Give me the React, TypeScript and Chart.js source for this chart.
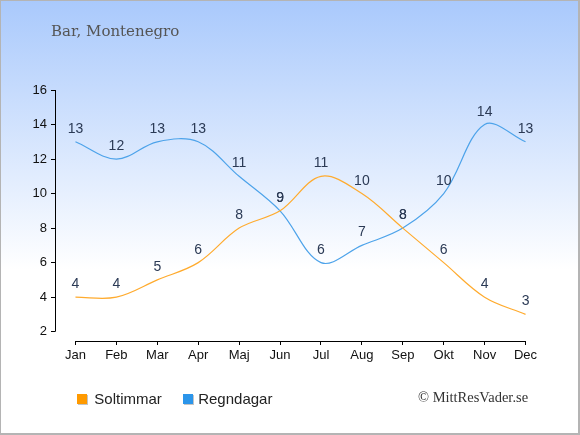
import { useEffect, useRef } from 'react';
import { Chart, registerables } from 'chart.js';

Chart.register(...registerables);

const months = ['Jan', 'Feb', 'Mar', 'Apr', 'Maj', 'Jun', 'Jul', 'Aug', 'Sep', 'Okt', 'Nov', 'Dec'];
const soltimmar = [4, 4, 5, 6, 8, 9, 11, 10, 8, 6, 4, 3];
const regndagar = [13, 12, 13, 13, 11, 9, 6, 7, 8, 10, 14, 13];
const yTicks = [2, 4, 6, 8, 10, 12, 14, 16];

const sunColor = '#ffab2e';
const rainColor = '#4da3ea';
const sans = '"Liberation Sans", Arial, sans-serif';
const serif = '"Liberation Serif", "Times New Roman", serif';
const titleSerif = '"DejaVu Serif", Georgia, serif';

// axis lines run only between first and last tick, like the original
const axisLines = {
  id: 'axisLines',
  beforeDatasetsDraw(chart: any) {
    const { ctx, chartArea } = chart;
    const x = chart.scales.x;
    const y = chart.scales.y;
    ctx.save();
    ctx.strokeStyle = '#000';
    ctx.lineWidth = 1;
    ctx.beginPath();
    const ax = Math.round(chartArea.left) + 0.5;
    ctx.moveTo(ax, y.getPixelForValue(yTicks[yTicks.length - 1]));
    ctx.lineTo(ax, y.getPixelForValue(yTicks[0]));
    const ay = Math.round(chartArea.bottom) + 0.5;
    ctx.moveTo(x.getPixelForValue(0), ay);
    ctx.lineTo(x.getPixelForValue(months.length - 1), ay);
    ctx.stroke();
    ctx.restore();
  },
};

// value above every point
const pointLabels = {
  id: 'pointLabels',
  afterDatasetsDraw(chart: any) {
    const { ctx } = chart;
    ctx.save();
    ctx.font = `14px ${sans}`;
    ctx.fillStyle = '#2b3a55';
    ctx.textAlign = 'center';
    ctx.textBaseline = 'alphabetic';
    chart.data.datasets.forEach((ds: any, i: number) => {
      chart.getDatasetMeta(i).data.forEach((pt: any, j: number) => {
        ctx.fillText(String(ds.data[j]), pt.x, pt.y - 9);
      });
    });
    ctx.restore();
  },
};

export default function App() {
  const canvasRef = useRef<HTMLCanvasElement>(null);
  const chartRef = useRef<Chart | null>(null);

  useEffect(() => {
    if (!canvasRef.current) return;
    if (chartRef.current) chartRef.current.destroy();

    chartRef.current = new Chart(canvasRef.current, {
      type: 'line',
      data: {
        labels: months,
        datasets: [
          {
            label: 'Soltimmar',
            data: soltimmar,
            borderColor: sunColor,
            borderWidth: 1.2,
            pointRadius: 0,
            tension: 0.35,
            fill: false,
          },
          {
            label: 'Regndagar',
            data: regndagar,
            borderColor: rainColor,
            borderWidth: 1.2,
            pointRadius: 0,
            tension: 0.35,
            fill: false,
          },
        ],
      },
      options: {
        animation: false,
        responsive: true,
        maintainAspectRatio: false,
        layout: { padding: { top: 90, right: 34, left: 0, bottom: 0 } },
        plugins: {
          legend: { display: false },
          title: { display: false },
          tooltip: { enabled: false },
        },
        scales: {
          x: {
            offset: true,
            border: { display: false },
            grid: { offset: false, drawOnChartArea: false, drawTicks: true, tickLength: 4, color: '#000' },
            ticks: { color: '#111', font: { size: 13, family: sans }, padding: 3, maxRotation: 0, autoSkip: false },
            afterFit: (s: any) => { s.height = 94; },
          },
          y: {
            min: 1.46,
            max: 16,
            border: { display: false },
            grid: { drawOnChartArea: false, drawTicks: true, tickLength: 4, color: '#000' },
            ticks: { color: '#111', font: { size: 13, family: sans }, padding: 4 },
            afterBuildTicks: (s: any) => { s.ticks = yTicks.map(v => ({ value: v })); },
            afterFit: (s: any) => { s.width = 55; },
          },
        },
      },
      plugins: [axisLines, pointLabels],
    });

    return () => {
      if (chartRef.current) {
        chartRef.current.destroy();
        chartRef.current = null;
      }
    };
  }, []);

  const marker = (color: string, left: number) => (
    <div style={{ position: 'absolute', left, top: 394, width: 10, height: 10, background: color, boxShadow: '1px 1px 0 #c4c4c4' }} />
  );

  return (
    <div style={{ position: 'absolute', left: 0, top: 0, width: 580, height: 435, background: 'linear-gradient(to bottom, #a9c9fc 0%, #ffffff 62%)' }}>
      <canvas ref={canvasRef} style={{ position: 'absolute', left: 0, top: 0 }} />
      <div style={{ position: 'absolute', left: 51, top: 24, font: `15px ${titleSerif}`, lineHeight: '15px', color: '#555', whiteSpace: 'nowrap' }}>
        Bar, Montenegro
      </div>
      {marker('#ff9a00', 77)}
      <div style={{ position: 'absolute', left: 94.3, top: 390.8, font: `15px ${sans}`, lineHeight: '15px', color: '#222', whiteSpace: 'nowrap' }}>Soltimmar</div>
      {marker('#2b95ea', 183.3)}
      <div style={{ position: 'absolute', left: 198.2, top: 390.8, font: `15px ${sans}`, lineHeight: '15px', color: '#222', whiteSpace: 'nowrap' }}>Regndagar</div>
      <div style={{ position: 'absolute', left: 418, top: 389.5, font: `14.5px ${serif}`, lineHeight: '15px', color: '#333', whiteSpace: 'nowrap' }}>
        © MittResVader.se
      </div>
      <div style={{ position: 'absolute', inset: 0, borderTop: '1px solid #b4b4b4', borderLeft: '1px solid #b4b4b4', borderRight: '2px solid #b4b4b4', borderBottom: '2px solid #b4b4b4', pointerEvents: 'none' }} />
    </div>
  );
}
